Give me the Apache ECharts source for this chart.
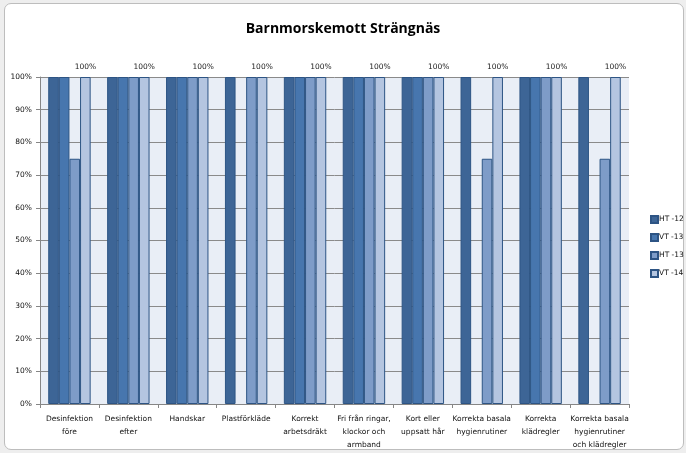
<!DOCTYPE html>
<html>
<head>
<meta charset="utf-8">
<script src="https://cdn.jsdelivr.net/npm/echarts@6/dist/echarts.min.js"></script>
<style>
  html, body { margin: 0; padding: 0; background: #eeeeee; }
  #frame {
    position: absolute; left: 4px; top: 3px; width: 678px; height: 445px;
    background: #fff; border: 1px solid #bdbdbd; border-radius: 7px;
  }
  #chart { position: absolute; left: 0; top: 0; width: 686px; height: 453px; }
</style>
</head>
<body>
<div id="frame"></div>
<div id="chart"></div>
<script>
  // categories
  var categories = [
    "Desinfektion\nföre",
    "Desinfektion\nefter",
    "Handskar",
    "Plastförkläde",
    "Korrekt\narbetsdräkt",
    "Fri från ringar,\nklockor och\narmband",
    "Kort eller\nuppsatt hår",
    "Korrekta basala\nhygienrutiner",
    "Korrekta\nklädregler",
    "Korrekta basala\nhygienrutiner\noch klädregler"
  ];
  var seriesNames = ["HT -12", "VT -13", "HT -13", "VT -14"];

  // "-" = no bar in the original
  var ht12 = [100, 100, 100, 100, 100, 100, 100, 100, 100, 100];
  var vt13 = [100, 100, 100, "-", 100, 100, 100, "-", 100, "-"];
  var ht13 = [75, 100, 100, 100, 100, 100, 100, 75, 100, 75];
  var vt14 = [100, 100, 100, 100, 100, 100, 100, 100, 100, 100];

  var colors = ["#3D6596", "#4776AE", "#7E9CC8", "#B4C5E0"];
  var font = "DejaVu Sans";

  function makeSeries(name, data, idx) {
    var s = {
      name: name,
      type: "bar",
      data: data,
      barGap: 0,
      barCategoryGap: "28%",
      itemStyle: { color: colors[idx], borderColor: "#2D5484", borderWidth: 1 },
      emphasis: { disabled: true }
    };
    if (idx === 3) {
      s.label = {
        show: true,
        position: "top",
        distance: 6,
        formatter: "{c}%",
        fontFamily: font,
        fontSize: 7.5,
        color: "#222"
      };
    }
    return s;
  }

  var chart = echarts.init(document.getElementById("chart"));
  var option = {
    animation: false,
    title: {
      text: "Barnmorskemott Strängnäs",
      left: "center",
      top: 17,
      textStyle: { fontFamily: "Open Sans", fontSize: 14, fontWeight: "bold", color: "#000" }
    },
    legend: {
      orient: "vertical",
      left: 645,
      top: 210,
      itemWidth: 7,
      itemHeight: 7,
      itemGap: 9,
      icon: "rect",
      textStyle: { fontFamily: font, fontSize: 7.5, color: "#111", padding: [0, 0, 0, -4] },
      data: seriesNames
    },
    grid: {
      left: 40,
      right: 57,
      top: 77,
      bottom: 49,
      show: true,
      backgroundColor: "#E9EEF6",
      borderWidth: 0
    },
    xAxis: {
      type: "category",
      data: categories,
      axisLine: { lineStyle: { color: "#868686" } },
      axisTick: { show: true, length: 4, lineStyle: { color: "#868686" } },
      axisLabel: {
        interval: 0,
        fontFamily: font,
        fontSize: 7.5,
        lineHeight: 13,
        color: "#111",
        margin: 9
      }
    },
    yAxis: {
      type: "value",
      min: 0,
      max: 100,
      interval: 10,
      axisLine: { show: true, lineStyle: { color: "#868686" } },
      axisTick: { show: true, length: 4, lineStyle: { color: "#868686" } },
      axisLabel: {
        formatter: "{value}%",
        fontFamily: font,
        fontSize: 7.5,
        color: "#111",
        margin: 8
      },
      splitLine: { lineStyle: { color: "#8A8A8A" } }
    },
    series: [
      makeSeries(seriesNames[0], ht12, 0),
      makeSeries(seriesNames[1], vt13, 1),
      makeSeries(seriesNames[2], ht13, 2),
      makeSeries(seriesNames[3], vt14, 3)
    ]
  };
  chart.setOption(option);
</script>
</body>
</html>
